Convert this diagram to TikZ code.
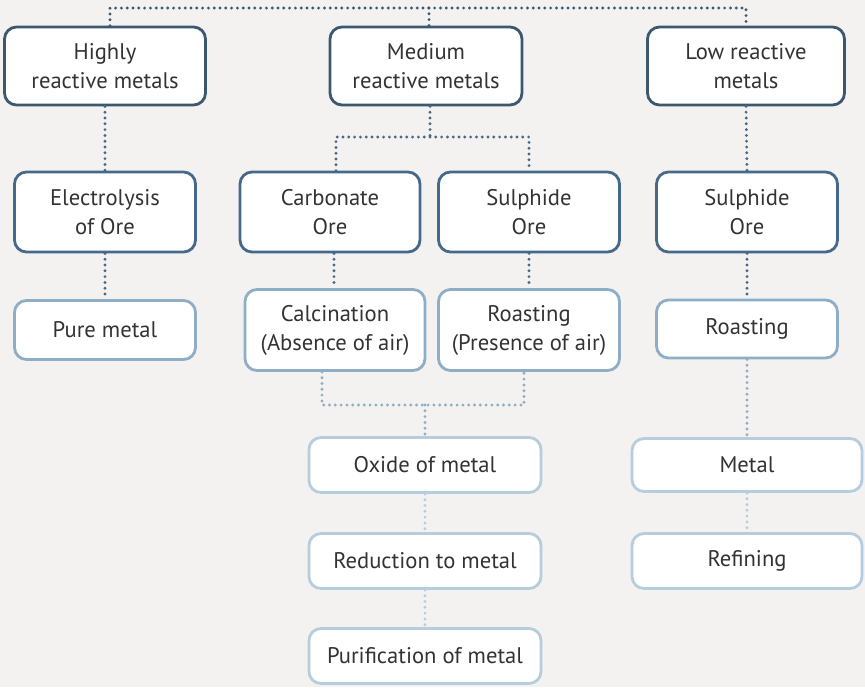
\documentclass[tikz,border=0pt]{standalone}
\usepackage{fontspec}
\setmainfont{PT Sans}
\usetikzlibrary{positioning}
\definecolor{paper}{HTML}{F3F2F0}
\definecolor{ink}{HTML}{333333}
\definecolor{rowa}{HTML}{3B5870}
\definecolor{rowb}{HTML}{46698A}
\definecolor{rowc}{HTML}{8DAEC6}
\definecolor{rowd}{HTML}{B6CDDE}

\begin{document}
\begin{tikzpicture}[x=0.5pt, y=-0.5pt,
    every node/.style = {shape=rectangle, rounded corners=6pt,
      draw, align=center, fill=white, line width=1.4pt, text=ink,
      font=\fontsize{11.3}{14.5}\selectfont, inner sep=0pt},
    link/.style = {line width=1.6pt, line cap=round,
      dash pattern=on 0pt off 2.9pt}]
  \tikzstyle{row 1}=[draw=rowa, minimum height=39pt]
  \tikzstyle{row 2}=[draw=rowb, minimum width=90.5pt, minimum height=40pt]
  \tikzstyle{row 3}=[draw=rowc, minimum width=90.5pt]
  \tikzstyle{row 4}=[draw=rowd, minimum width=116pt, minimum height=27.5pt]

  \fill[paper] (0,0) rectangle (865,687);

  % reactivity groups
  \node[row 1, minimum width=100.5pt] (high) at (105,66) {Highly\\reactive metals};
  \node[row 1, minimum width=96pt] (med) at (426,66) {Medium\\reactive metals};
  \node[row 1, minimum width=98.5pt] (low) at (746,66) {Low reactive\\metals};

  % ores
  \node[row 2] (elec) at (105,212) {Electrolysis\\of Ore};
  \node[row 2, minimum width=90pt] (carb) at (330,212) {Carbonate\\Ore};
  \node[row 2] (sulm) at (529,212) {Sulphide\\Ore};
  \node[row 2] (sulr) at (747,212) {Sulphide\\Ore};

  % treatment
  \node[row 3, minimum height=29.5pt] (pure) at (105,330) {Pure metal};
  \node[row 3, minimum width=90pt, minimum height=40.5pt] (calc) at (335,330) {Calcination\\(Absence of air)};
  \node[row 3, minimum height=40.5pt] (roam) at (529,330) {Roasting\\(Presence of air)};
  \node[row 3, minimum height=29pt] (roar) at (747,329) {Roasting};

  % metal
  \node[row 4] (oxide) at (425,465) {Oxide of metal};
  \node[row 4, minimum width=115pt, minimum height=26.5pt] (metal) at (747,465) {Metal};
  \node[row 4] (reduc) at (425,561) {Reduction to metal};
  \node[row 4, minimum width=115pt] (refin) at (747,561) {Refining};
  \node[row 4] (purif) at (425,656) {Purification of metal};

  \coordinate (top) at (429,8);
  \coordinate (mb) at (430,137);
  \coordinate (mo) at (425,405);

  \draw[link, rowa] ([xshift=2.5pt]high.north) |- (top) -| (low.north);
  \draw[link, rowa] (top) -- (top |- med.north);
  \draw[link, rowb] (high.south) -- (elec.north);
  \draw[link, rowb] (low.south) -- (sulr.north);
  \draw[link, rowb] (med.south -| mb) -- (mb);
  \draw[link, rowb] ([xshift=3pt]carb.north) |- (mb) -| (sulm.north);
  \draw[link, rowb] (elec.south) -- (pure.north);
  \draw[link, rowb] ([xshift=2pt]carb.south) -- ([xshift=-0.5pt]calc.north);
  \draw[link, rowb] (sulm.south) -- (roam.north);
  \draw[link, rowb] (sulr.south) -- (roar.north);
  \draw[link, rowc] ([xshift=-6.5pt]calc.south) |- (mo) -| ([xshift=-2.5pt]roam.south);
  \draw[link, rowc] (mo) -- (oxide.north);
  \draw[link, rowc] (roar.south) -- (metal.north);
  \draw[link, rowd] (oxide.south) -- (reduc.north);
  \draw[link, rowd] (reduc.south) -- (purif.north);
  \draw[link, rowd] (metal.south) -- (refin.north);
\end{tikzpicture}
\end{document}
